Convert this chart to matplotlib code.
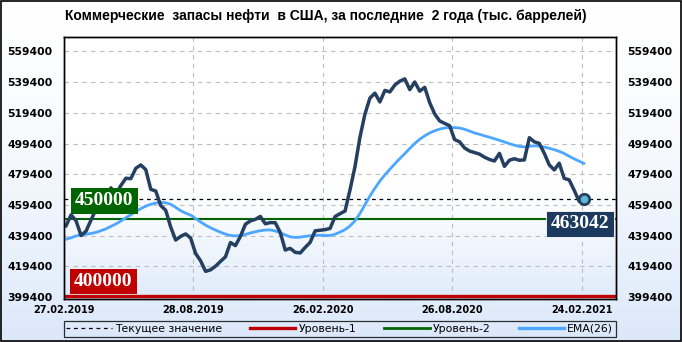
import matplotlib
matplotlib.use("Agg")
import matplotlib.pyplot as plt
import numpy as np
from matplotlib.lines import Line2D
from matplotlib.patches import Rectangle
import matplotlib.transforms as mtransforms

# ---------------- data ----------------
title = "Коммерческие  запасы нефти  в США, за последние  2 года (тыс. баррелей)"
tick_dates = ["27.02.2019", "28.08.2019", "26.02.2020", "26.08.2020", "24.02.2021"]
y_ticks = [399400, 419400, 439400, 459400, 479400, 499400, 519400, 539400, 559400]

stocks = [
    445865, 452902, 449072, 439480, 442279, 449519, 456550, 455150, 460630, 470563,
    466597, 472037, 476775, 476492, 483266, 485455, 482354, 469571, 468460, 459000,
    455900, 445000, 436500, 438900, 440500, 437800, 427800, 423000, 416100, 417100,
    419500, 422600, 425600, 434900, 432900, 438900, 446800, 449000, 450000, 451900,
    447100, 447900, 447800, 441400, 430000, 431100, 428500, 428100, 431700, 435000,
    442500, 442900, 443300, 444100, 451800, 453700, 455400, 469200, 484400, 503600,
    518600, 529000, 532200, 526500, 534000, 533000, 537500, 540000, 541500, 534500,
    539500, 533500, 536000, 526000, 518700, 514100, 512500, 511000, 502000, 500500,
    496500, 494500, 493500, 492500, 490500, 489000, 488000, 493000, 484500, 488500,
    489500, 488500, 488700, 503200, 500500, 499500, 493000, 485500, 482200, 486600,
    476700, 475700, 469000, 461800, 463042,
]

ema26 = [
    437000, 438000, 439200, 439800, 440300, 440800, 441500, 442600, 443800, 445400,
    447000, 448900, 451000, 453000, 455000, 457000, 458600, 459800, 460600, 461000,
    460800, 459800, 457800, 455700, 454000, 452800, 450500, 448300, 446200, 444500,
    443000, 441600, 440400, 439500, 439200, 439400, 440200, 441100, 441900, 442600,
    443000, 443100, 442400, 441200, 439800, 438600, 438200, 438400, 438900, 439300,
    439600, 439600, 439400, 439500, 440300, 441700, 443300, 445700, 449000, 453800,
    459500, 465200, 470300, 475000, 479000, 482600, 486200, 489600, 492800, 496200,
    499400, 502200, 504400, 506300, 507700, 508800, 509500, 509800, 509800, 509500,
    508700, 507500, 506300, 505400, 504400, 503500, 502500, 501500, 500400, 499300,
    498300, 497500, 497200, 497600, 497900, 497700, 497100, 496300, 495400, 494300,
    492900, 491100, 489400, 487900, 486400,
]

level1 = 400000
level2 = 450000
current = stocks[-1]

legend_labels = ["Текущее значение", "Уровень-1", "Уровень-2", "EMA(26)"]

# ---------------- styling ----------------
NAVY = "#243f60"
EMA_C = "#4da6ff"
GREEN = "#006400"
RED = "#c00000"
GRID = "#bdbdbd"

W, H = 682, 342
fig = plt.figure(figsize=(W / 100, H / 100), dpi=100)

# figure background gradient
bg = fig.add_axes([0, 0, 1, 1], zorder=-10)
t = np.linspace(0, 1, 256)[:, None]
top_c = np.array([1.0, 1.0, 1.0])
bot_c = np.array([0.86, 0.91, 0.98])
grad = top_c + (bot_c - top_c) * (t ** 1.6)[:, :, None] * np.ones((1, 1, 3))
bg.imshow(grad, aspect="auto", extent=[0, 1, 0, 1], origin="upper")
bg.set_axis_off()

L, R, T, B = 63.6, 616, 37, 299
ax = fig.add_axes([L / W, 1 - B / H, (R - L) / W, (B - T) / H])
ax.set_facecolor("none")

# plot-area gradient
pgrad_t = np.linspace(0, 1, 256)[:, None]
pbot = np.array([0.87, 0.92, 0.98])
pg = top_c + (pbot - top_c) * (np.clip((pgrad_t - 0.55) / 0.45, 0, 1) ** 1.3)[:, :, None] * np.ones((1, 1, 3))
ax.imshow(pg, aspect="auto", extent=[0, 1, 0, 1], origin="upper",
          transform=ax.transAxes, zorder=0)

x = np.arange(len(stocks))
tick_pos = [26 * i - 0.5 for i in range(len(tick_dates))]

ax.set_xlim(-0.48, 110.4)
ax.set_ylim(398100, 568800)

ax.set_yticks(y_ticks)
ax.set_xticks(tick_pos)
ax.set_xticklabels(tick_dates)
ax.grid(True, color=GRID, linestyle=(0, (4, 4)), linewidth=0.8, zorder=1)
ax.tick_params(axis="both", length=0)
ax.tick_params(axis="y", pad=8)
ax.tick_params(axis="x", pad=4)
for lab in ax.get_yticklabels():
    lab.set_fontsize(7.8)
    lab.set_fontweight("bold")
for lab in ax.get_xticklabels():
    lab.set_fontsize(7.0)
    lab.set_fontweight("bold")

ax2 = ax.twinx()
ax2.set_ylim(ax.get_ylim())
ax2.set_yticks(y_ticks)
ax2.tick_params(axis="y", length=0, pad=8)
for lab in ax2.get_yticklabels():
    lab.set_fontsize(7.8)
    lab.set_fontweight("bold")
ax2.set_facecolor("none")

for a in (ax, ax2):
    for s in a.spines.values():
        s.set_color("black")
        s.set_linewidth(1.0)

# levels
ax.axhline(level1, color=RED, lw=2.4, zorder=3)
ax.axhline(level2, color=GREEN, lw=1.5, zorder=3)
ax.axhline(current, color="black", lw=0.9, linestyle=(0, (3, 3)), zorder=3)

# EMA and main series
ax.plot(x, ema26, color=EMA_C, lw=2.0, zorder=4, solid_capstyle="round")
ax.plot(x, stocks, color=NAVY, lw=2.5, zorder=5, solid_joinstyle="round")
ax.plot([x[-1]], [stocks[-1]], marker="o", ms=7.5, mfc="#5bb8d8", mec=NAVY, mew=2.0, zorder=6)

# value labels
bt = mtransforms.blended_transform_factory(ax.transAxes, ax.transData)
lab_font = dict(family=["Liberation Serif", "DejaVu Serif"], weight="bold", size=14, color="white")
off = mtransforms.ScaledTranslation(0, 10 / 100, fig.dpi_scale_trans)
ax.text(0.021, level2, f"{level2}", transform=bt + off, ha="left", va="bottom", zorder=7,
        bbox=dict(boxstyle="square,pad=0.22", fc=GREEN, ec="none"), **lab_font)
off1 = mtransforms.ScaledTranslation(0, 6 / 100, fig.dpi_scale_trans)
ax.text(0.019, level1, f"{level1}", transform=bt + off1, ha="left", va="bottom", zorder=7,
        bbox=dict(boxstyle="square,pad=0.22", fc=RED, ec="none"), **lab_font)
off2 = mtransforms.ScaledTranslation(0, -16 / 100, fig.dpi_scale_trans)
ax.text(0.988, current, f"{current}", transform=bt + off2, ha="right", va="top", zorder=7,
        bbox=dict(boxstyle="square,pad=0.22", fc="#1c3a5e", ec="white", lw=0.6), **lab_font)

# title
fig.text(0.478, 1 - 16 / H, title, ha="center", va="center",
         family=["Liberation Sans Narrow", "Liberation Sans", "DejaVu Sans"],
         weight="bold", size=10)

# legend
handles = [
    Line2D([], [], color="black", lw=0.9, linestyle=(0, (3, 3))),
    Line2D([], [], color=RED, lw=2.4),
    Line2D([], [], color=GREEN, lw=2.0),
    Line2D([], [], color=EMA_C, lw=2.4),
]
leg = ax.legend(handles, legend_labels, loc="center", ncol=4, mode="expand",
                bbox_to_anchor=(0, -0.151, 1, 0.074), frameon=True, fancybox=False,
                edgecolor="black", facecolor="none", fontsize=7.8, handlelength=4.2,
                handletextpad=0.3, borderaxespad=0, borderpad=0.25)
leg.get_frame().set_linewidth(0.9)

# outer border
fig.patches.append(Rectangle((0.001, 0.002), 0.998, 0.996, transform=fig.transFigure,
                             fill=False, edgecolor="black", lw=1.2))

fig.savefig("out.png", dpi=100)
